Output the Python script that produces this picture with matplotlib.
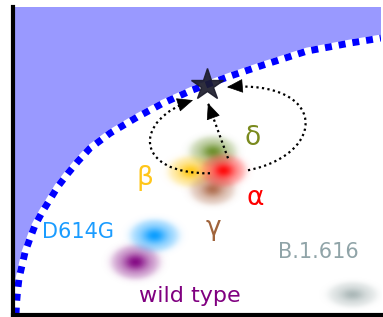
import numpy as np
import matplotlib
matplotlib.use("Agg")
import matplotlib.pyplot as plt
from matplotlib.path import Path
from matplotlib.patches import PathPatch
from matplotlib.colors import to_rgb

# schematic units: x 0..368 across, y 0..307 up
XMAX, YMAX = 368, 307

# boundary curve
curve_x = [3, 3.5, 4.5, 6, 9, 12, 17, 22, 29, 37, 45, 55, 65, 77, 97, 124, 150, 179, 217, 250, 294, 337, 368]
curve_y = [0, 11, 23, 36, 49, 62, 76, 89, 102, 115, 128, 141, 153, 166, 181, 197, 211, 224, 238, 249, 263, 271, 276]

# variants: blob centres and label positions
names   = ['wild type', 'D614G', 'B.1.616', 'δ', 'β', 'γ', 'α']
blob_x  = [122, 141, 339, 200, 177, 199, 210]
blob_y  = [52, 79, 20, 162, 142, 124, 144]
label_x = [177, 65, 305, 240, 132, 200, 242]
label_y = [18, 82, 62, 176, 136, 86, 116]

star_x, star_y = 194, 229

# dotted arrows (start, control points, end)
arrow_left  = [(197, 141), (120, 140), (120, 195), (180, 214)]
arrow_right = [(235, 144), (315, 160), (315, 235), (214, 227)]
arrow_mid   = [(215, 156), (195, 211)]

# styles
blob_col  = ['#800080', '#0099ff', '#8a9c9c', '#4d7a00', '#ffc400', '#a0522d', '#ff0000']
text_col  = ['#800080', '#1a9cff', '#90a4a8', '#7a8a1e', '#ffc61a', '#a0643c', '#ff0000']
blob_a    = [27, 27, 27, 26, 25, 25, 25]
blob_b    = [19, 18, 14, 17, 17, 17, 18]
blob_peak = [0.95, 0.95, 0.7, 0.8, 0.9, 0.8, 0.95]
font_size = [16, 15, 15, 19, 19, 19, 19]


def blob(ax, x, y, color, a, b, peak):
    g = np.linspace(-1.3, 1.3, 131)
    r = np.hypot(g[None, :], g[:, None])
    core = 0.35 + 0.65 * np.exp(-(r / 0.45) ** 2)
    edge = 1 / (1 + np.exp((r - 0.88) / 0.09))
    img = np.zeros((131, 131, 4))
    img[..., :3] = to_rgb(color)
    img[..., 3] = peak * core * edge
    ax.imshow(img, extent=(x - 1.3 * a, x + 1.3 * a, y - 1.3 * b, y + 1.3 * b),
              origin='lower', interpolation='bilinear', aspect='auto', zorder=2)


def dotted_arrow(ax, pts):
    if len(pts) == 4:
        codes = [Path.MOVETO, Path.CURVE4, Path.CURVE4, Path.CURVE4]
    else:
        codes = [Path.MOVETO, Path.LINETO]
    ax.add_patch(PathPatch(Path(pts, codes), fill=False, lw=1.6, color='black',
                           linestyle=(0, (1, 1.5)), zorder=4))
    end = np.array(pts[-1], float)
    d = end - np.array(pts[-2], float)
    d = d / np.hypot(*d)
    ax.annotate('', xy=end, xytext=end - d * 2,
                arrowprops=dict(arrowstyle='-|>,head_length=0.8,head_width=0.35',
                                mutation_scale=13, color='black', lw=0.5,
                                shrinkA=0, shrinkB=0), zorder=5)


fig = plt.figure(figsize=(3.83, 3.17), dpi=100)
ax = fig.add_axes([13 / 383, 2.5 / 317, 368 / 383, 307.5 / 317])

# shaded region above the curve
fx = np.r_[0, curve_x, XMAX, 0]
fy = np.r_[0, curve_y, YMAX, YMAX]
ax.fill(fx, fy, color='#9999ff', lw=0, zorder=1)
ax.plot(curve_x, curve_y, color='white', lw=5, solid_capstyle='butt', zorder=3)
ax.plot(curve_x, curve_y, color='#0000ff', lw=5, linestyle=(0, (1, 1)),
        dash_capstyle='butt', zorder=3)

for i in range(len(names)):
    blob(ax, blob_x[i], blob_y[i], blob_col[i], blob_a[i], blob_b[i], blob_peak[i])
    ax.text(label_x[i], label_y[i], names[i], color=text_col[i], fontsize=font_size[i],
            ha='center', va='center', zorder=6)

dotted_arrow(ax, arrow_left)
dotted_arrow(ax, arrow_right)
dotted_arrow(ax, arrow_mid)

ax.plot(star_x, star_y, marker='*', markersize=24, color='#1c1c2c', alpha=0.92, zorder=7)

ax.set_xlim(0, XMAX)
ax.set_ylim(0, YMAX)
ax.set_xticks([])
ax.set_yticks([])
for s in ['top', 'right']:
    ax.spines[s].set_visible(False)
for s in ['left', 'bottom']:
    ax.spines[s].set_linewidth(3)
    ax.spines[s].set_color('black')
    ax.spines[s].set_zorder(8)

fig.savefig('out.png', dpi=100)
